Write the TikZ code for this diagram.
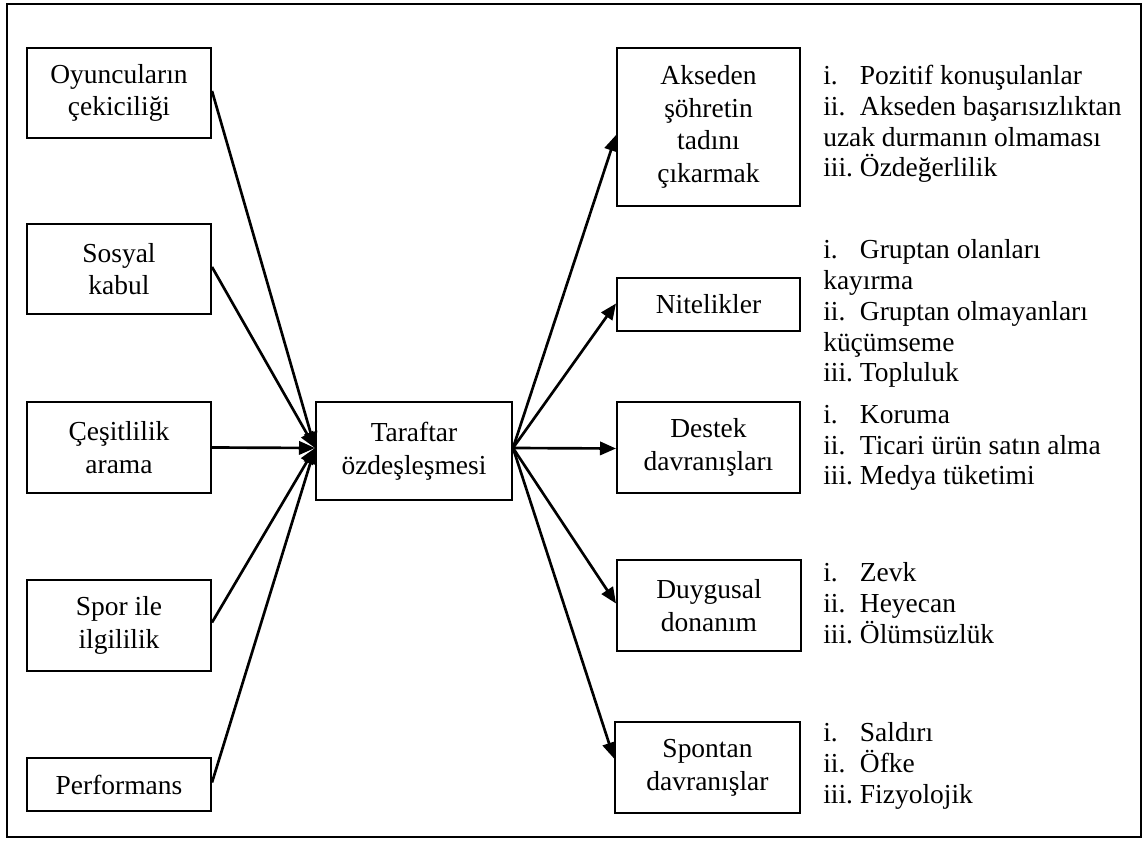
\documentclass[tikz,border=0pt]{standalone}
\usepackage{fontspec}
\setmainfont{Liberation Serif}
\usetikzlibrary{arrows.meta,calc}
\newcommand\itm[1]{\makebox[27.5pt][l]{#1}}
\begin{document}
\begin{tikzpicture}[x=0.75pt,y=-0.75pt,
  box/.style={draw,line width=1.5pt,inner sep=0pt,align=center,
    font=\fontsize{20.6}{24.5}\selectfont,minimum width=138pt},
  lst/.style={inner sep=0pt,align=left,anchor=base west,
    font=\fontsize{20.6}{23.2}\selectfont},
  arr/.style={line width=2pt,-{Triangle[length=12pt,width=10pt]}},
  frame/.style={draw,line width=1.8pt}]
\useasboundingbox (0,0) rectangle (1147,841);
\draw[frame] (7,4) rectangle (1141,837);

% left boxes
\node[box,minimum height=67.5pt] (o1) at (119,93) {Oyuncuların\\çekiciliği};
\node[box,minimum height=67.5pt] (o2) at (119,269) {Sosyal\\kabul};
\node[box,minimum height=68.25pt] (o3) at (119,447.5) {Çeşitlilik\\arama};
\node[box,minimum height=68.25pt] (o4) at (119,625.5) {Spor ile\\ilgililik};
\node[box,minimum height=39.75pt] (o5) at (119,784.5) {Performans};

% centre
\node[box,minimum width=147pt,minimum height=73.5pt] (tf) at (414,451) {Taraftar\\özdeşleşmesi};
\coordinate (tin) at ($(tf.west)+(0,-3)$);
\coordinate (tout) at ($(tf.east)+(0,-3)$);

% right boxes
\node[box,minimum width=137.25pt,minimum height=118.5pt] (r1) at (708.5,127) {Akseden\\şöhretin\\tadını\\çıkarmak};
\node[box,minimum width=137.25pt,minimum height=39.75pt] (r2) at (708.5,304.5) {Nitelikler};
\node[box,minimum width=137.25pt,minimum height=68.25pt] (r3) at (708.5,447.5) {Destek\\davranışları};
\node[box,minimum width=138pt,minimum height=68.25pt] (r4) at (709,605.5) {Duygusal\\donanım};
\node[box,minimum width=138.75pt,minimum height=68.25pt] (r5) at (707.5,767.5) {Spontan\\davranışlar};

% lists (positioned at the baseline of the last line)
\node[lst] (l1) at (823,177) {\itm{i.}Pozitif konuşulanlar\\\itm{ii.}Akseden başarısızlıktan\\uzak durmanın olmaması\\\itm{iii.}Özdeğerlilik};
\node[lst] (l2) at (823,382) {\itm{i.}Gruptan olanları\\kayırma\\\itm{ii.}Gruptan olmayanları\\küçümseme\\\itm{iii.}Topluluk};
\node[lst] (l3) at (823,485) {\itm{i.}Koruma\\\itm{ii.}Ticari ürün satın alma\\\itm{iii.}Medya tüketimi};
\node[lst] (l4) at (823,643) {\itm{i.}Zevk\\\itm{ii.}Heyecan\\\itm{iii.}Ölümsüzlük};
\node[lst] (l5) at (823,803) {\itm{i.}Saldırı\\\itm{ii.}Öfke\\\itm{iii.}Fizyolojik};

% arrows in
\draw[arr] ($(o1.east)+(0,-2)$) -- (tin);
\draw[arr] ($(o2.east)+(0,-2)$) -- (tin);
\draw[arr] (o3.east) -- (tin);
\draw[arr] ($(o4.east)+(0,-3)$) -- (tin);
\draw[arr] ($(o5.east)+(0,-2)$) -- (tin);

% arrows out
\draw[arr] (tout) -- ($(r1.west)+(0,8)$);
\draw[arr] (tout) -- ($(r2.west)+(0,-1)$);
\draw[arr] (tout) -- ($(r3.west)+(0,1)$);
\draw[arr] (tout) -- ($(r4.west)+(0,-2)$);
\draw[arr] (tout) -- ($(r5.west)+(0,-9)$);
\end{tikzpicture}
\end{document}
